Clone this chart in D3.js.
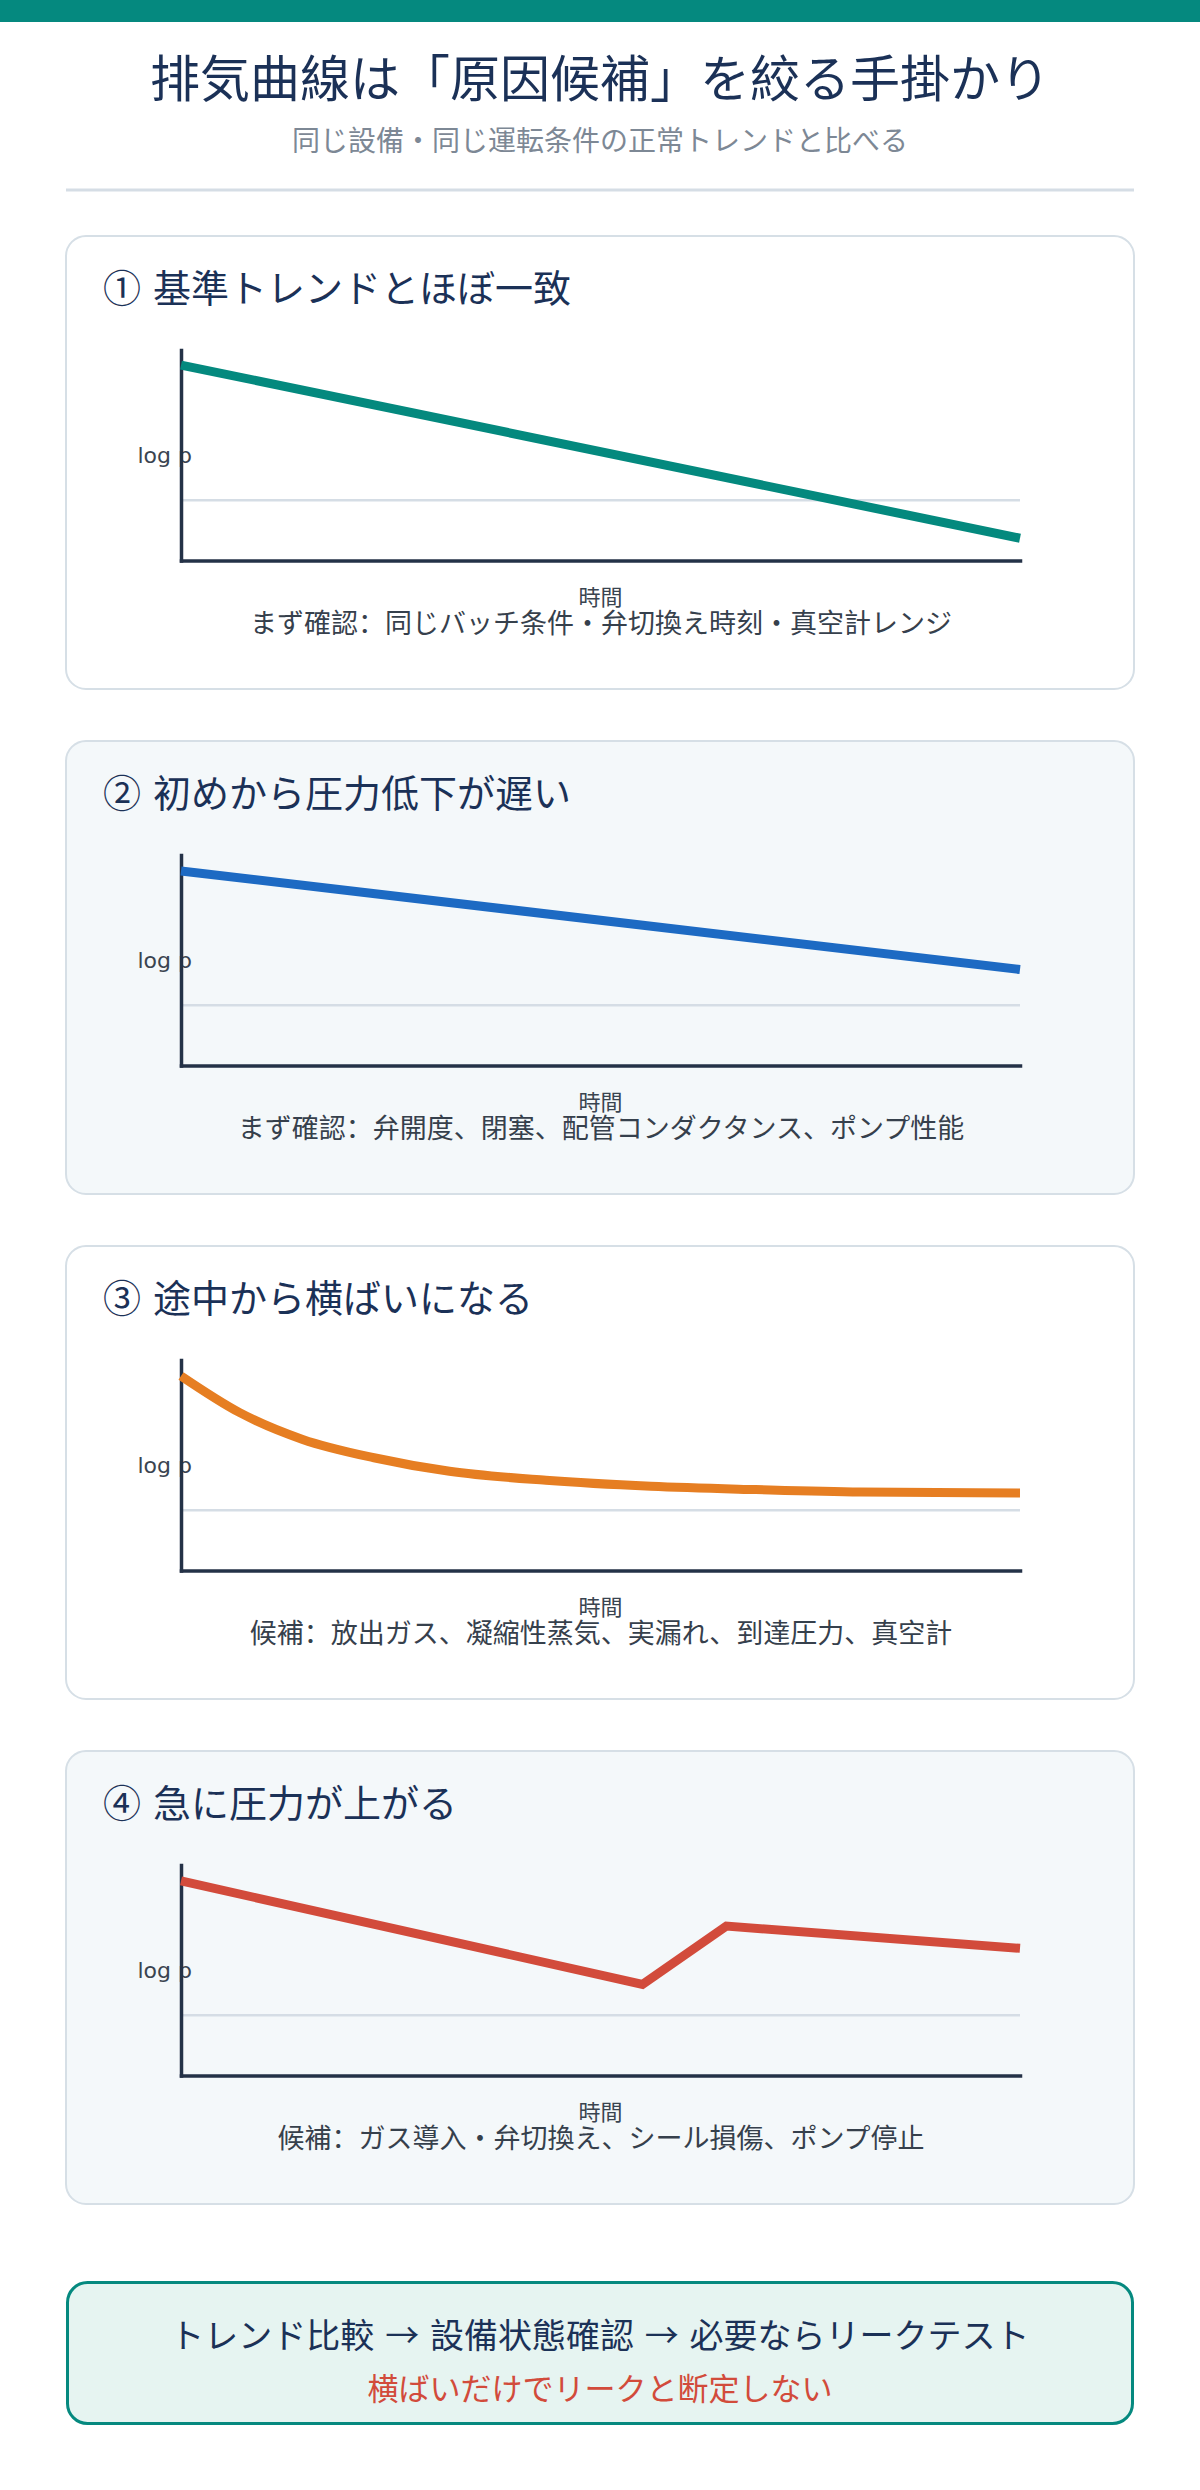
<!DOCTYPE html>
<html><head><meta charset="utf-8">
<script src="https://cdn.jsdelivr.net/npm/d3@7"></script>
<style>
html,body{margin:0;padding:0;background:#fff;}
svg{display:block;}
text{font-family:"Noto Sans CJK SC","Noto Sans CJK JP",sans-serif;}
text.latin{font-family:"DejaVu Sans",sans-serif;}
</style>
</head><body>
<script>
// ---- data ----
const pageTitle = "排気曲線は「原因候補」を絞る手掛かり";
const pageSubtitle = "同じ設備・同じ運転条件の正常トレンドと比べる";
const panelTitles = [
  "① 基準トレンドとほぼ一致",
  "② 初めから圧力低下が遅い",
  "③ 途中から横ばいになる",
  "④ 急に圧力が上がる"
];
const panelNotes = [
  "まず確認：同じバッチ条件・弁切換え時刻・真空計レンジ",
  "まず確認：弁開度、閉塞、配管コンダクタンス、ポンプ性能",
  "候補：放出ガス、凝縮性蒸気、実漏れ、到達圧力、真空計",
  "候補：ガス導入・弁切換え、シール損傷、ポンプ停止"
];
const xAxisLabel = "時間";
const yAxisLabel = "log p";
const timeDomain = [0, 10];
const logPDomain = [0, 7];
const referenceLevel = 2.0;
const trend1Time = [0, 10];
const trend1LogP = [6.5, 0.74];
const trend2Time = [0, 10];
const trend2LogP = [6.47, 3.19];
const trend3Time = [0, 0.7, 1.45, 2.3, 3.2, 4.35, 5.6, 6.85, 8.1, 10];
const trend3LogP = [6.47, 5.25, 4.36, 3.75, 3.30, 3.00, 2.80, 2.69, 2.61, 2.58];
const trend4Time = [0, 5.5, 6.5, 10];
const trend4LogP = [6.47, 3.03, 4.97, 4.23];
const summaryFlow = "トレンド比較 → 設備状態確認 → 必要ならリークテスト";
const summaryWarning = "横ばいだけでリークと断定しない";

// ---- styles ----
const lineColors = ["#04897e", "#1d6ac3", "#e67e22", "#d24b3b"];
const navy = "#1b3157";
const teal = "#05897f";

const trends = [
  {t: trend1Time, v: trend1LogP, curve: d3.curveLinear},
  {t: trend2Time, v: trend2LogP, curve: d3.curveLinear},
  {t: trend3Time, v: trend3LogP, curve: d3.curveMonotoneX},
  {t: trend4Time, v: trend4LogP, curve: d3.curveLinear}
];

const svg = d3.select("body").append("svg")
  .attr("width", 1200).attr("height", 2490);

svg.append("rect").attr("x", 0).attr("y", 0).attr("width", 1200).attr("height", 2490).attr("fill", "#fff");
svg.append("rect").attr("x", 0).attr("y", 0).attr("width", 1200).attr("height", 22).attr("fill", teal);

svg.append("text").attr("x", 600).attr("y", 96.5).attr("text-anchor", "middle")
  .attr("font-size", 50).attr("fill", navy).text(pageTitle);
svg.append("text").attr("x", 600).attr("y", 151).attr("text-anchor", "middle")
  .attr("font-size", 28).attr("fill", "#7d8895").text(pageSubtitle);
svg.append("line").attr("x1", 66).attr("x2", 1134).attr("y1", 190).attr("y2", 190)
  .attr("stroke", "#d5dde5").attr("stroke-width", 3);

const x = d3.scaleLinear().domain(timeDomain).range([181, 1020]);

trends.forEach((tr, i) => {
  const top = 236 + i * 505;
  const g = svg.append("g");
  g.append("rect").attr("x", 66).attr("y", top).attr("width", 1068).attr("height", 453)
    .attr("rx", 20).attr("fill", i % 2 ? "#f4f8fa" : "#ffffff")
    .attr("stroke", "#d6dfe6").attr("stroke-width", 2);
  g.append("text").attr("x", 103).attr("y", top + 66).attr("font-size", 38)
    .attr("word-spacing", 3.6).attr("fill", navy).text(panelTitles[i]);

  const y = d3.scaleLinear().domain(logPDomain).range([top + 324.5, top + 114]);

  g.append("line").attr("x1", x(timeDomain[0])).attr("x2", x(timeDomain[1]))
    .attr("y1", y(referenceLevel)).attr("y2", y(referenceLevel))
    .attr("stroke", "#d5dde5").attr("stroke-width", 2.5);

  g.append("text").attr("class", "latin").attr("x", 192).attr("y", top + 227).attr("text-anchor", "end")
    .attr("font-size", 22).attr("fill", "#3a4450").text(yAxisLabel);

  const ax = g.append("g").attr("transform", `translate(0,${y(logPDomain[0])})`)
    .call(d3.axisBottom(x).tickValues([]).tickSizeOuter(0));
  const ay = g.append("g").attr("transform", `translate(${x(timeDomain[0])},0)`)
    .call(d3.axisLeft(y).tickValues([]).tickSizeOuter(0));
  [ax, ay].forEach(a => a.select(".domain").attr("stroke", "#243247")
    .attr("stroke-width", 3.5).attr("stroke-linecap", "square"));

  const pts = tr.t.map((t, k) => [t, tr.v[k]]);
  const line = d3.line().x(d => x(d[0])).y(d => y(d[1])).curve(tr.curve);
  g.append("path").attr("d", line(pts)).attr("fill", "none")
    .attr("stroke", lineColors[i]).attr("stroke-width", 9)
    .attr("stroke-linejoin", "miter").attr("stroke-linecap", "butt");

  g.append("text").attr("x", 600.5).attr("y", top + 368.5).attr("text-anchor", "middle")
    .attr("font-size", 22).attr("fill", "#3a4450").text(xAxisLabel);
  g.append("text").attr("x", 601).attr("y", top + 397).attr("text-anchor", "middle")
    .attr("font-size", 27).attr("fill", "#36404c").text(panelNotes[i]);
});

svg.append("rect").attr("x", 67.5).attr("y", 2282.5).attr("width", 1065).attr("height", 141)
  .attr("rx", 20).attr("fill", "#e6f4f1").attr("stroke", teal).attr("stroke-width", 3);
svg.append("text").attr("x", 600).attr("y", 2347.5).attr("text-anchor", "middle")
  .attr("font-size", 34).attr("word-spacing", 3.2).attr("fill", navy).text(summaryFlow);
svg.append("text").attr("x", 600).attr("y", 2399.5).attr("text-anchor", "middle")
  .attr("font-size", 31).attr("fill", "#d24b3b").text(summaryWarning);
</script>
</body></html>
